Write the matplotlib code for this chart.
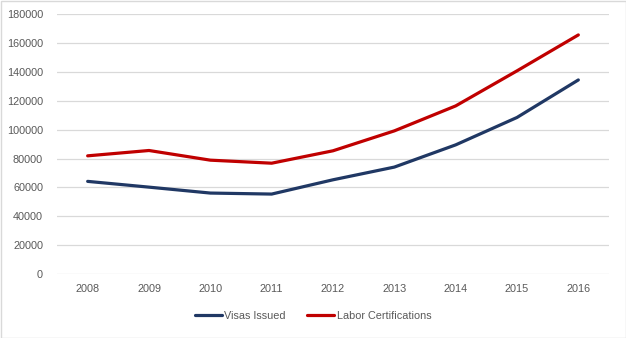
import matplotlib.pyplot as plt
import matplotlib.patches as mpatches

years = ['2008', '2009', '2010', '2011', '2012', '2013', '2014', '2015', '2016']
visas_issued = [64200, 60200, 56100, 55400, 65300, 74100, 89500, 108500, 134500]
labor_certs = [81900, 85600, 78900, 76800, 85400, 99200, 116500, 140800, 165700]
yticks = list(range(0, 180001, 20000))

plt.rcParams['font.family'] = ['Liberation Sans', 'DejaVu Sans']
text_color = '#595959'
grid_color = '#D9D9D9'

fig = plt.figure(figsize=(6.26, 3.38), dpi=100)
ax = fig.add_axes([57 / 626, 1 - 274 / 338, (609 - 57) / 626, (274 - 14.3) / 338])

x = list(range(len(years)))
ax.plot(x, visas_issued, color='#203864', lw=2.3, label='Visas Issued', solid_capstyle='round')
ax.plot(x, labor_certs, color='#C00000', lw=2.3, label='Labor Certifications', solid_capstyle='round')

ax.set_xlim(-0.5, len(years) - 0.5)
ax.set_ylim(0, 180000)
ax.set_xticks(x)
ax.set_xticklabels(years)
ax.set_yticks(yticks)
ax.set_yticklabels([str(v) for v in yticks])
ax.tick_params(length=0, labelsize=7.8, colors=text_color)
ax.tick_params(axis='y', pad=10)
ax.tick_params(axis='x', pad=7)

for s in ax.spines.values():
    s.set_visible(False)
ax.grid(axis='y', color=grid_color, lw=0.9)
ax.set_axisbelow(True)

leg = fig.legend(loc='center', bbox_to_anchor=(313 / 626, 1 - 316 / 338), ncol=2,
                 frameon=False, fontsize=7.8, handlelength=2.5, handletextpad=0.2,
                 columnspacing=2.0)
for t in leg.get_texts():
    t.set_color(text_color)

fig.patches.append(mpatches.Rectangle((0.5 / 626, 0.5 / 338), 625 / 626, 337 / 338,
                                      transform=fig.transFigure, fill=False,
                                      edgecolor='#D9D9D9', lw=1))

fig.savefig('out.png', dpi=100)
